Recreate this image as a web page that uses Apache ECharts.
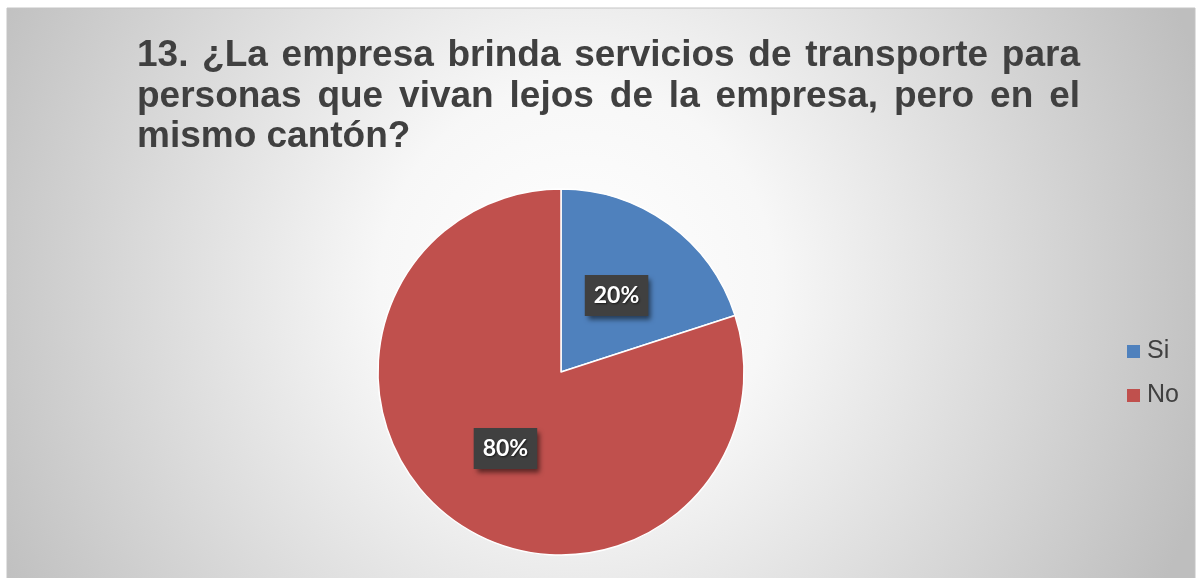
<!DOCTYPE html>
<html><head><meta charset="utf-8">
<script src="https://cdn.jsdelivr.net/npm/echarts@6/dist/echarts.min.js"></script>
<style>html,body{margin:0;padding:0;background:#fff;}#c{width:1196px;height:578px;}</style>
</head><body><div id="c"></div>
<script>
const categories = ['Si', 'No'];
const values = [20, 80];
const colors = ['#4F81BD', '#C0504D'];
const titleLines = [
  '13. ¿La empresa brinda servicios de transporte para',
  'personas que vivan lejos de la empresa, pero en el',
  'mismo cantón?'
];

const chart = echarts.init(document.getElementById('c'));
const FAMILY = '"Liberation Sans", Arial, sans-serif';
const TFS = 37;
const titleFont = 'bold ' + TFS + 'px ' + FAMILY;
const ctx = document.createElement('canvas').getContext('2d');
ctx.font = titleFont;
const tLeft = 137, tRight = 1080, baselines = [69, 110, 150];
const midOff = Math.round(TFS * 0.36);

const graphics = [{
  type: 'rect', z: -10, silent: true,
  shape: { x: 7, y: 8, width: 1188, height: 572 },
  style: {
    fill: new echarts.graphic.RadialGradient(0.48, 0.48, 1.15, [
      { offset: 0, color: '#ffffff' },
      { offset: 0.3, color: '#f7f7f7' },
      { offset: 1, color: '#bebebe' }
    ]),
    stroke: '#c4c4c4', lineWidth: 1
  }
}];

function txt(x, y, s) {
  return { type: 'text', z: 10, x: x, y: y,
    style: { text: s, font: titleFont, fill: '#404040', verticalAlign: 'middle', align: 'left' } };
}

titleLines.forEach((line, i) => {
  const words = line.split(' ');
  const y = baselines[i] - midOff;
  if (i === titleLines.length - 1) { graphics.push(txt(tLeft, y, line)); return; }
  const widths = words.map(w => ctx.measureText(w).width);
  const total = widths.reduce((a, b) => a + b, 0);
  const gap = (tRight - tLeft - total) / (words.length - 1);
  let x = tLeft;
  words.forEach((w, k) => { graphics.push(txt(x, y, w)); x += widths[k] + gap; });
});

const sum = values.reduce((a, b) => a + b, 0);

chart.setOption({
  animation: false,
  graphic: { elements: graphics },
  legend: {
    orient: 'vertical', left: 1122, top: 334,
    icon: 'rect', itemWidth: 13, itemHeight: 13, itemGap: 19,
    data: categories,
    itemStyle: { borderWidth: 0 },
    textStyle: { fontSize: 25, color: '#404040', fontFamily: FAMILY, padding: [0, 0, 0, 2] }
  },
  series: [{
    type: 'pie',
    center: [561, 372],
    radius: 183,
    startAngle: 90,
    clockwise: true,
    color: colors,
    itemStyle: { borderColor: '#ffffff', borderWidth: 1.5 },
    emphasis: { disabled: true },
    label: {
      show: true, position: 'inside',
      formatter: p => Math.round(p.value / sum * 100) + '%',
      color: '#ffffff', fontWeight: 'bold', fontSize: 23,
      fontFamily: 'Lato, "Open Sans", sans-serif',
      backgroundColor: '#404040', padding: [9, 9],
      shadowColor: 'rgba(0,0,0,0.55)', shadowBlur: 5, shadowOffsetX: 3, shadowOffsetY: 4,
      textShadowColor: 'rgba(0,0,0,0.6)', textShadowBlur: 2, textShadowOffsetX: 1, textShadowOffsetY: 1
    },
    labelLine: { show: false },
    data: categories.map((c, i) => ({ name: c, value: values[i] }))
  }]
});
</script></body></html>
